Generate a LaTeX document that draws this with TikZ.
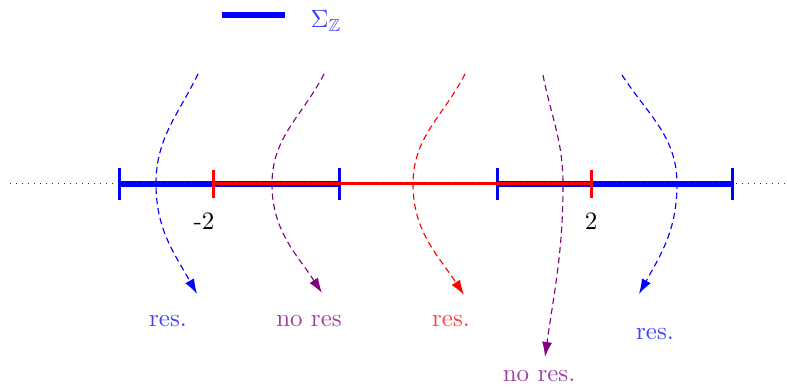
\documentclass[tikz,border=0pt]{standalone}
\usepackage{amssymb}
\usetikzlibrary{arrows.meta}
\definecolor{ResPurple}{HTML}{800080}

\begin{document}
\begin{tikzpicture}[>={Latex[length=6pt,width=4pt]},x=0.4pt,y=0.4pt,
  band/.style={blue,line width=2.6pt},
  redband/.style={red,line width=1.2pt},
  btick/.style={blue,line width=1.2pt},
  rtick/.style={red,line width=1.2pt},
  flow/.style={->,dash pattern=on 2.5pt off 1.6pt,line width=0.45pt},
  lab/.style={inner sep=1pt}]

\useasboundingbox (0,0) rectangle (787,-390);

% Axis points (pixel-like units, y downward)
\coordinate (axL) at (10,-184);
\coordinate (axR) at (787,-184);
\coordinate (b1) at (119,-184);
\coordinate (b2) at (339,-184);
\coordinate (b3) at (497,-184);
\coordinate (b4) at (732,-184);
\coordinate (m2) at (213,-184);
\coordinate (p2) at (591,-184);

% ---- SPECTRUM ----
\draw[band] (b1) -- (b2);
\draw[band] (b3) -- (b4);
\foreach \p in {b1,b2,b3,b4}
  \draw[btick] (\p) +(0,16) -- +(0,-16);
\draw[redband] (m2) -- (p2);
\foreach \p in {m2,p2}
  \draw[rtick] (\p) +(0,14) -- +(0,-14);
\draw[dotted,black!80] (axL) -- (axR);

\node[lab] (lm) at (204,-221) {-2};
\node[lab] (lp) at (591,-221) {2};

% ---- LEGEND ----
\coordinate (leg1) at (222,-15);
\coordinate (leg2) at (285,-15);
\draw[band] (leg1) -- (leg2);
\node[lab,text=blue!75] (sig) at (326,-21) {$\Sigma_{\mathbb{Z}}$};

% ---- PATHS ----
% start, crossing of the axis, end
\coordinate (s1) at (198,-74);  \coordinate (x1) at (156,-184);  \coordinate (e1) at (197,-294);
\coordinate (s2) at (324,-74);  \coordinate (x2) at (272,-184);  \coordinate (e2) at (322,-293);
\coordinate (s3) at (465,-74);  \coordinate (x3) at (413,-184);  \coordinate (e3) at (464,-295);
\coordinate (s4) at (543,-75);  \coordinate (x4) at (563,-184);  \coordinate (e4) at (545,-357);
\coordinate (s5) at (622,-75);  \coordinate (x5) at (677,-184);  \coordinate (e5) at (639,-294);

\draw[flow,blue] (s1) to[out=-116,in=90] (x1) to[out=-90,in=119] (e1);
\draw[flow,ResPurple] (s2) to[out=-117,in=90] (x2) to[out=-90,in=123] (e2);
\draw[flow,red] (s3) to[out=-117,in=90] (x3) to[out=-90,in=123] (e3);
\draw[flow,ResPurple] (s4) to[out=-79,in=90] (x4) to[out=-90,in=82] (e4);
\draw[flow,blue] (s5) to[out=-57,in=90] (x5) to[out=-90,in=61] (e5);

\node[lab,text=blue!75] (r1) at (168,-321) {res.};
\node[lab,text=ResPurple!75] (r2) at (309,-321) {no res};
\node[lab,text=red!75] (r3) at (451,-321) {res.};
\node[lab,text=ResPurple!75] (r4) at (539,-376) {no res.};
\node[lab,text=blue!75] (r5) at (655,-334) {res.};

\end{tikzpicture}
\end{document}
